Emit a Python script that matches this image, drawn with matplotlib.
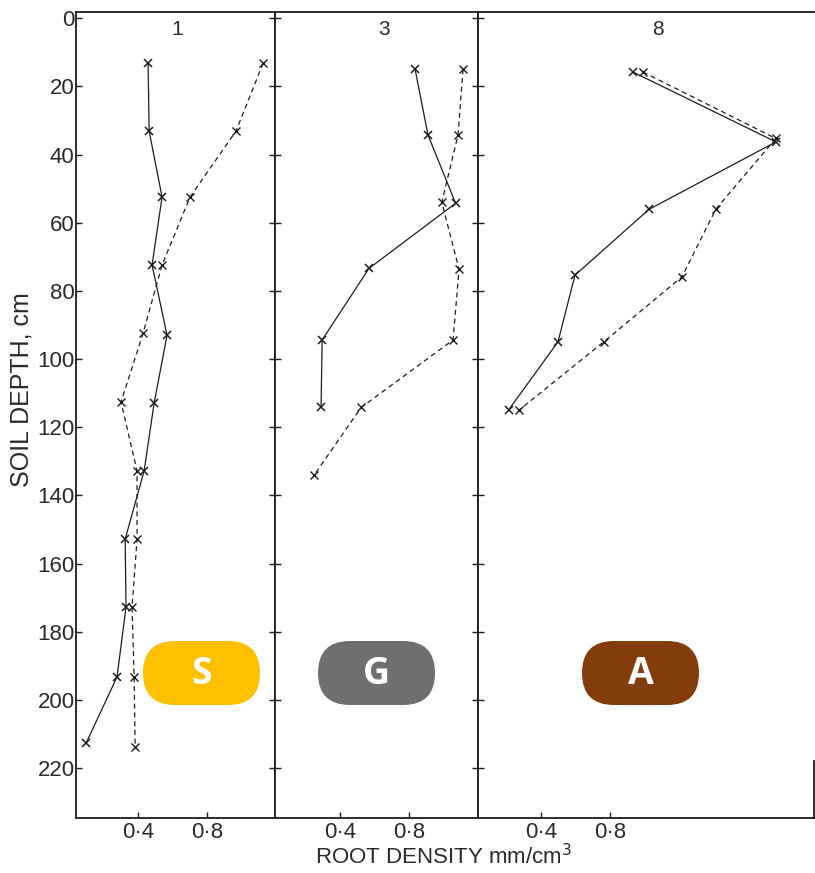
import matplotlib
matplotlib.use('Agg')
import matplotlib.pyplot as plt
from matplotlib.patches import FancyBboxPatch

plt.rcParams['font.family'] = ['Liberation Sans', 'DejaVu Sans']

# --- data: root density (mm/cm3) vs soil depth (cm) --- #
# panel "1"
p1_solid_depth = [13.2, 33.1, 52.5, 72.4, 93.0, 112.9, 132.8, 152.8, 172.7, 193.2, 212.6]
p1_solid_dens = [0.458, 0.464, 0.539, 0.481, 0.568, 0.493, 0.435, 0.325, 0.330, 0.278, 0.099]
p1_dash_depth = [13.2, 33.1, 52.5, 72.4, 92.4, 112.6, 132.8, 152.8, 172.7, 193.2, 213.8]
p1_dash_dens = [1.125, 0.968, 0.701, 0.539, 0.429, 0.301, 0.394, 0.394, 0.365, 0.377, 0.383]
# panel "3"
p3_solid_depth = [15.0, 34.3, 54.3, 73.4, 94.4, 114.0]
p3_solid_dens = [0.835, 0.910, 1.070, 0.568, 0.296, 0.290]
p3_dash_depth = [15.0, 34.3, 54.0, 73.7, 94.4, 114.2, 134.0]
p3_dash_dens = [1.113, 1.084, 0.990, 1.090, 1.055, 0.522, 0.250]
# panel "8"
p8_solid_depth = [15.8, 36.3, 56.1, 75.4, 94.9, 114.8]
p8_solid_dens = [0.933, 1.762, 1.026, 0.597, 0.499, 0.214]
p8_dash_depth = [15.8, 35.3, 56.0, 75.9, 94.9, 115.0]
p8_dash_dens = [0.991, 1.762, 1.414, 1.217, 0.765, 0.272]

panel_names = ['1', '3', '8']
badge_text = ['S', 'G', 'A']
badge_color = ['#FFC000', '#6F6F6F', '#843C0C']
y_ticks = list(range(0, 221, 20))
x_ticks = [0.4, 0.8]
x_ticklabels = ['0\u00b74', '0\u00b78']

panels = [
    (p1_solid_dens, p1_solid_depth, p1_dash_dens, p1_dash_depth),
    (p3_solid_dens, p3_solid_depth, p3_dash_dens, p3_dash_depth),
    (p8_solid_dens, p8_solid_depth, p8_dash_dens, p8_dash_depth),
]
xlims = [(0.04, 1.194), (0.023, 1.2), (0.035, 1.983)]

ink = '#1c1c1c'
W, H = 815, 873
fig = plt.figure(figsize=(W / 100, H / 100), dpi=100)
gs = fig.add_gridspec(1, 3, left=76 / W, right=814 / W, top=1 - 12 / H, bottom=1 - 818 / H,
                      wspace=0, width_ratios=[b - a for a, b in xlims])

title_x = [0.51, 0.535, 0.535]
axes = []
for i, (sx, sy, dx, dy) in enumerate(panels):
    ax = fig.add_subplot(gs[0, i])
    ax.plot(sx, sy, '-', color=ink, lw=0.9, marker='x', ms=5.5, mew=1.1, zorder=3)
    ax.plot(dx, dy, '--', color=ink, lw=0.9, dashes=(4, 3), marker='x', ms=5.5, mew=1.0, zorder=3)
    ax.set_xlim(*xlims[i])
    ax.set_ylim(234.6, -1.8)
    ax.set_xticks(x_ticks)
    ax.set_xticklabels(x_ticklabels)
    ax.set_yticks(y_ticks)
    ax.tick_params(direction='in', length=4, width=1, color=ink, labelcolor='#2a2a2a',
                   labelsize=16, pad=3)
    ax.tick_params(axis='y', left=True, right=(i < 2), labelleft=(i == 0), pad=1)
    for s in ax.spines.values():
        s.set_color(ink)
        s.set_linewidth(1.3)
    ax.text(title_x[i], 0.99, panel_names[i], transform=ax.transAxes,
            ha='center', va='top', fontsize=15, color='#2a2a2a')
    axes.append(ax)

axes[2].spines['right'].set_bounds(218, 234.6)
axes[0].set_yticklabels([str(v) for v in y_ticks])

fig.text(22 / W, 1 - 390 / H, 'SOIL DEPTH, cm', rotation=90, ha='center', va='center',
         fontsize=18, color='#2a2a2a')
fig.text(443 / W, 1 - 857 / H, 'ROOT DENSITY mm/cm$^3$', ha='center', va='center',
         fontsize=16, color='#2a2a2a')

# coloured pill badges, drawn on a pixel-space overlay
ov = fig.add_axes([0, 0, 1, 1])
ov.set_xlim(0, W)
ov.set_ylim(H, 0)
ov.axis('off')
badge_x = [143, 318, 582]
for bx, t, c in zip(badge_x, badge_text, badge_color):
    ov.add_patch(FancyBboxPatch((bx, 641), 117, 64, boxstyle='round,pad=0,rounding_size=32',
                                fc=c, ec='none'))
    ov.text(bx + 58.5, 674, t, ha='center', va='center', color='white', fontsize=27,
            fontweight='bold', family=['Open Sans', 'DejaVu Sans'])

fig.savefig('out.png', dpi=100)
